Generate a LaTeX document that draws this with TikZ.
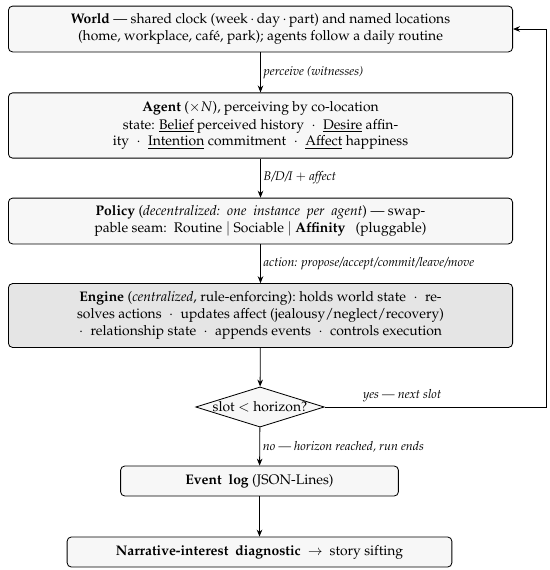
\documentclass[tikz,border=0pt]{standalone}
\usepackage[T1]{fontenc}
\usepackage{mathpazo}
\usetikzlibrary{arrows.meta,shapes.geometric}

\begin{document}
\begin{tikzpicture}[x=0.72pt,y=-0.72pt,>={Stealth[length=5pt,width=4pt]},
    box/.style={draw,semithick,rounded corners=3pt,fill=black!3,align=center,
        minimum width=363pt,font=\normalsize},
    lbl/.style={font=\small\itshape,right,inner sep=2pt}]
\useasboundingbox (0,0) rectangle (550,570);
\node[box,minimum height=33pt] (world) at (260.5,29)
    {\textbf{World} --- shared clock (week\,$\cdot$\,day\,$\cdot$\,part) and named locations\\
     (home, workplace, caf\'e, park); agents follow a daily routine};
\node[box,minimum height=47pt] (agent) at (260.5,125.5)
    {\textbf{Agent} ($\times N$), perceiving by co-location\\[1pt]
     state: \underline{Belief} perceived history $\;\cdot\;$ \underline{Desire} affin-\\
     ity $\;\cdot\;$ \underline{Intention} commitment $\;\cdot\;$ \underline{Affect} happiness};
\node[box,minimum height=33pt] (policy) at (260.5,221)
    {\textbf{Policy} (\emph{decentralized:\ \ one\ \ instance\ \ per\ \ agent}) --- swap-\\
     pable seam:\ \ Routine\ $\mid$\ Sociable\ $\mid$\ \textbf{Affinity}\ \ \ (pluggable)};
\node[box,minimum height=46pt,fill=black!10] (engine) at (260.5,315.5)
    {\textbf{Engine} (\emph{centralized}, rule-enforcing):\ holds world state $\;\cdot\;$ re-\\
     solves actions $\;\cdot\;$ updates affect (jealousy/neglect/recovery)\\
     $\cdot\;$ relationship state $\;\cdot\;$ appends events $\;\cdot\;$ controls execution};
\node[draw,semithick,diamond,fill=black!3,aspect=3.2,inner sep=0pt,minimum width=88pt,
    minimum height=28pt] (slot) at (260,407) {slot $<$ horizon?};
\node[box,minimum width=200pt,minimum height=21.6pt] (log) at (259.5,481)
    {\textbf{Event\ \ log} (JSON-Lines)};
\node[box,minimum width=277pt,minimum height=21.6pt] (diag) at (259.5,552)
    {\textbf{Narrative-interest\ \ diagnostic}\ \ $\rightarrow$\ \ story sifting};
\coordinate (loop) at (546,407);
\draw[semithick,->] (world) -- node[lbl] {perceive (witnesses)} (agent);
\draw[semithick,->] (agent) -- node[lbl] {B/D/I $+$ affect} (policy);
\draw[semithick,->] (policy) -- node[lbl] {action: propose/accept/commit/leave/move} (engine);
\draw[semithick,->] (engine) -- (slot);
\draw[semithick,->] (slot) -- node[lbl] {no --- horizon reached, run ends} (log);
\draw[semithick,->] (log) -- (diag);
\draw[semithick,->] (slot.east) -- node[font=\small\itshape,above,pos=0.35] {yes --- next slot} (loop) |- (world.east);
\end{tikzpicture}
\end{document}
